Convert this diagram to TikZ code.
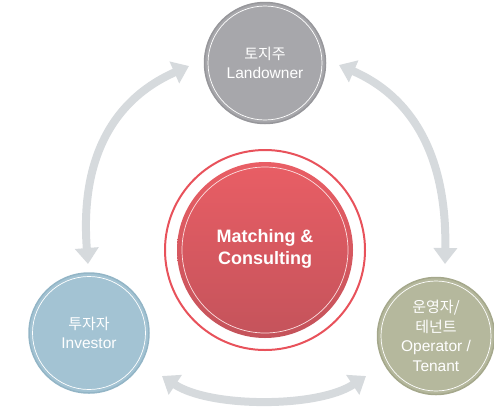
\documentclass[tikz,border=0pt]{standalone}
\usepackage{fontspec}
\setmainfont{Liberation Sans}
\newfontfamily\kr{Noto Sans CJK KR}
\usetikzlibrary{arrows.meta}
\definecolor{arrowgray}{HTML}{D6DADD}
\definecolor{landfill}{HTML}{A7A7AB}
\definecolor{landedge}{HTML}{97979B}
\definecolor{invfill}{HTML}{A3C3D3}
\definecolor{invedge}{HTML}{93B5C6}
\definecolor{opfill}{HTML}{B5B89D}
\definecolor{opedge}{HTML}{A5A88C}
\definecolor{redtop}{HTML}{E95E65}
\definecolor{redbot}{HTML}{C4535B}
\definecolor{redring}{HTML}{E8525B}
\newcommand{\krtext}[1]{{\kr\fontsize{15}{19.5}\selectfont #1}}
\tikzset{
  party/.style={circle, inner sep=0pt, line width=1.5pt, text=white, align=center,
    font=\fontsize{15.5}{19.5}\selectfont},
  flow/.style={draw=arrowgray, line width=8pt,
    {Triangle[length=16pt,width=23pt]}-{Triangle[length=16pt,width=23pt]}},
  ring/.style={draw=white, line width=0.7pt}
}
\begin{document}
\begin{tikzpicture}[x=1pt,y=-1pt]
\useasboundingbox (0,0) rectangle (494,413);
% arrows
\coordinate (l1) at (189,66);
\coordinate (l2) at (88,264);
\coordinate (r1) at (339,65);
\coordinate (r2) at (445,264);
\coordinate (b1) at (162,376);
\coordinate (b2) at (366,376);
\draw[flow] (l1) .. controls (112,100) and (80,160) .. (l2);
\draw[flow] (r1) .. controls (415,98) and (447,160) .. (r2);
\draw[flow] (b1) .. controls (210,408) and (318,408) .. (b2);
% center
\node[circle, draw=redring, line width=2pt, minimum size=200pt] (outer) at (265,250) {};
\shade[top color=redtop, bottom color=redbot] (outer.center) circle[radius=88pt];
\draw[ring, white!80!redtop] (outer.center) circle[radius=83pt];
\node[text=white, align=center, font=\fontsize{18}{22}\selectfont\bfseries] (mc) at (265,249) {Matching \&\\Consulting};
% parties
\node[party, fill=landfill, draw=landedge, minimum size=121pt] (land) at (265,63)
  {\krtext{토지주}\\Landowner};
\draw[ring] (land.center) circle[radius=57pt];
\node[party, fill=invfill, draw=invedge, minimum size=120pt] (inv) at (89,333)
  {\krtext{투자자}\\Investor};
\draw[ring] (inv.center) circle[radius=56.5pt];
\node[party, fill=opfill, draw=opedge, minimum size=117pt] (op) at (436,336)
  {\krtext{운영자/}\\\krtext{테넌트}\\Operator /\\Tenant};
\draw[ring] (op.center) circle[radius=55pt];
\end{tikzpicture}
\end{document}
